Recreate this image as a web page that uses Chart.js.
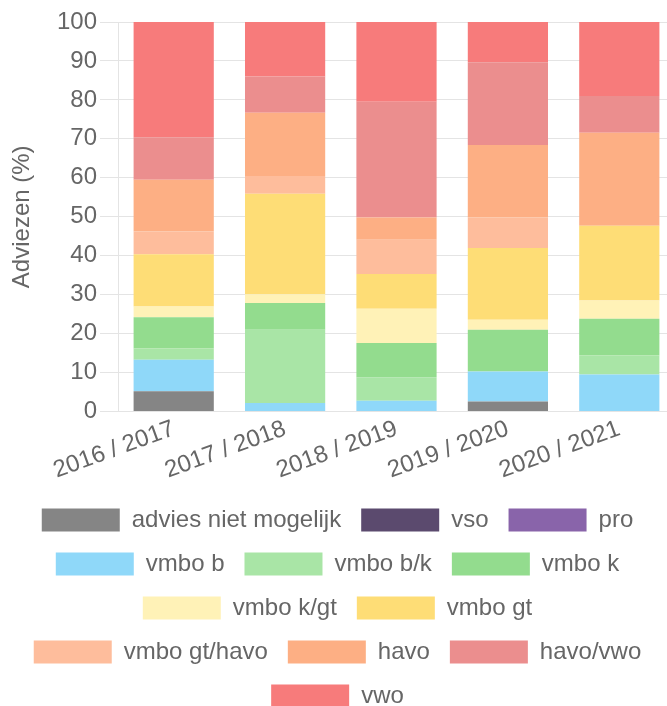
<!DOCTYPE html>
<html>
<head>
<meta charset="utf-8">
<script src="https://cdn.jsdelivr.net/npm/chart.js@4"></script>
<style>
  html, body { margin: 0; padding: 0; background: #fff; overflow: hidden; }
  #wrap { position: absolute; left: 0; top: 0; width: 683px; height: 718px; }
</style>
</head>
<body>
<div id="wrap"><canvas id="adviesChart" width="683" height="718"></canvas></div>
<script>
// ---------- DATA ----------
const years = ['2016 / 2017', '2017 / 2018', '2018 / 2019', '2019 / 2020', '2020 / 2021'];

const adviesNietMogelijk = [5.2, 0, 0, 2.6, 0];
const vso        = [0, 0, 0, 0, 0];
const pro        = [0, 0, 0, 0, 0];
const vmboB      = [8.1, 2.2, 2.8, 7.7, 9.5];
const vmboBK     = [2.9, 18.8, 6.0, 0, 4.9];
const vmboK      = [8.0, 6.9, 8.8, 10.7, 9.4];
const vmboKGt    = [2.8, 2.2, 8.8, 2.6, 4.7];
const vmboGt     = [13.4, 25.8, 8.9, 18.4, 19.2];
const vmboGtHavo = [5.8, 4.6, 8.8, 7.8, 0];
const havo       = [13.3, 16.2, 5.7, 18.6, 23.9];
const havoVwo    = [10.9, 9.3, 29.7, 21.3, 9.4];
const vwo        = [29.6, 14.0, 20.5, 10.3, 19.0];

// ---------- DATASETS ----------
const series = [
  ['advies niet mogelijk', adviesNietMogelijk, '#858585'],
  ['vso',          vso,        '#5b4a6e'],
  ['pro',          pro,        '#8964aa'],
  ['vmbo b',       vmboB,      '#8fd8f9'],
  ['vmbo b/k',     vmboBK,     '#a9e5a6'],
  ['vmbo k',       vmboK,      '#93dc8e'],
  ['vmbo k/gt',    vmboKGt,    '#fff2b7'],
  ['vmbo gt',      vmboGt,     '#fedd76'],
  ['vmbo gt/havo', vmboGtHavo, '#febd9c'],
  ['havo',         havo,       '#fdaf84'],
  ['havo/vwo',     havoVwo,    '#eb8e8e'],
  ['vwo',          vwo,        '#f77b7b']
];

const datasets = series.map(([label, data, color]) => ({
  label, data,
  backgroundColor: color,
  borderWidth: 0
}));

const tickColor = '#666';
const gridColor = '#e4e4e4';
const font = { family: '"Liberation Sans", Arial, sans-serif', size: 24 };

new Chart(document.getElementById('adviesChart'), {
  type: 'bar',
  data: { labels: years, datasets },
  options: {
    responsive: false,
    animation: false,
    layout: { padding: { top: 22, left: 0, right: 8, bottom: 0 } },
    scales: {
      x: {
        stacked: true,
        grid: { display: false, drawTicks: false, tickLength: 0 },
        border: { color: gridColor },
        ticks: { color: tickColor, font, minRotation: 20, maxRotation: 20 }
      },
      y: {
        stacked: true,
        min: 0, max: 100,
        ticks: { stepSize: 10, color: tickColor, font, padding: 3 },
        grid: { color: gridColor, tickLength: 18 },
        border: { color: gridColor },
        title: { display: true, text: 'Adviezen (%)', color: tickColor, font,
                 padding: { top: 8, bottom: 4 } },
        afterFit: scale => { scale.width = 118; }
      }
    },
    plugins: {
      tooltip: { enabled: false },
      legend: {
        position: 'bottom',
        labels: {
          color: tickColor,
          font,
          boxWidth: 78,
          boxHeight: 23,
          padding: 20
        }
      }
    }
  }
});
</script>
</body>
</html>
